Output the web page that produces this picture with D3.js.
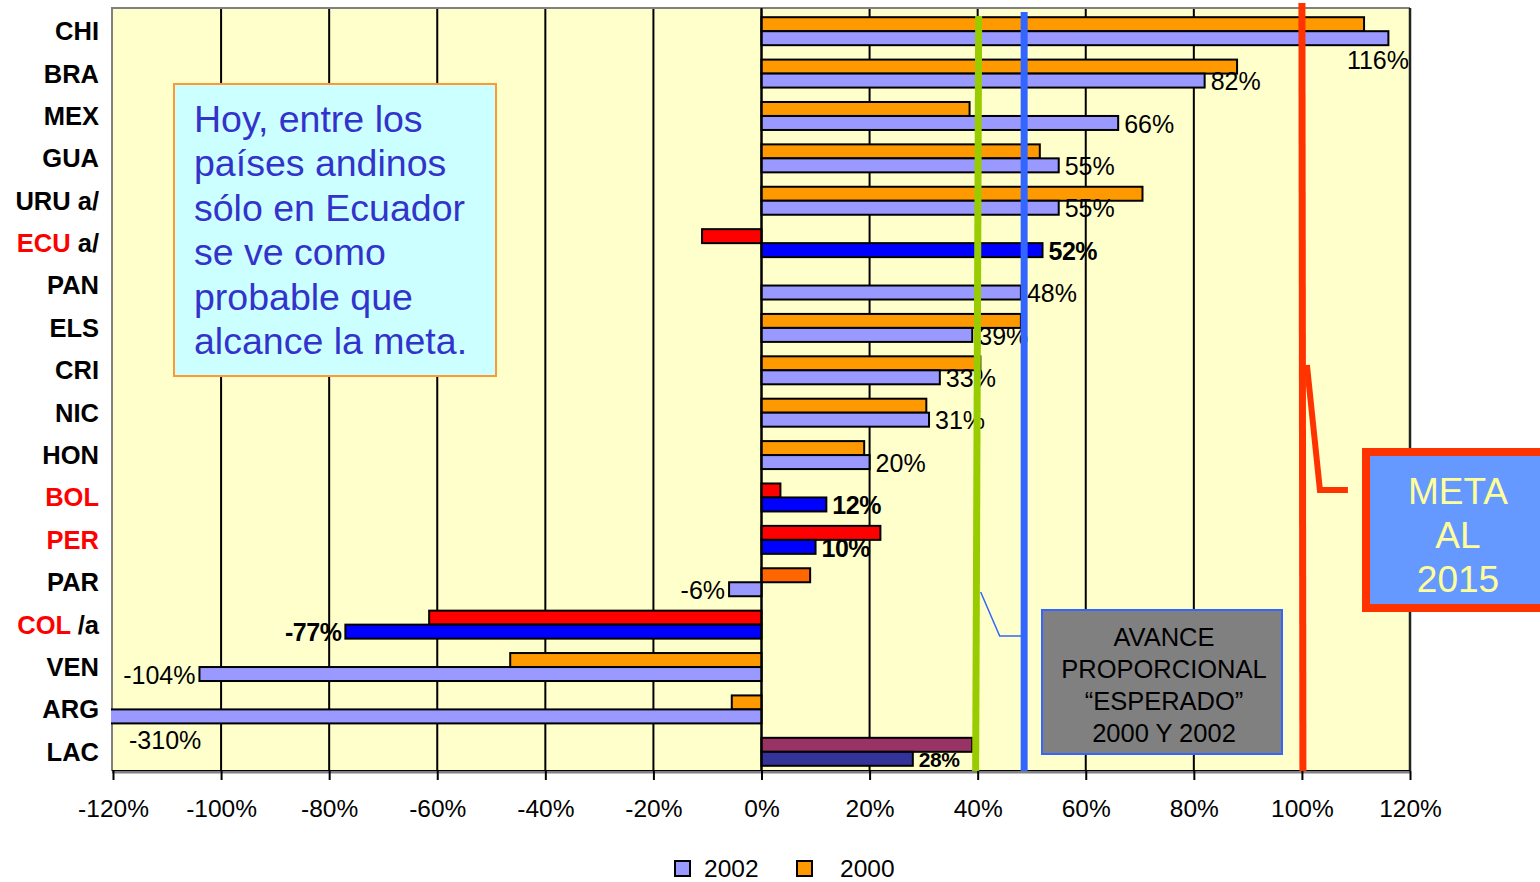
<!DOCTYPE html>
<html><head><meta charset="utf-8">
<script src="https://cdn.jsdelivr.net/npm/d3@7"></script>
<style>body{margin:0;background:#fff;} svg{display:block;font-family:"Liberation Sans",Arial,sans-serif;}</style>
</head><body>
<svg id="c" width="1540" height="882"></svg>
<script>
const categories = ["CHI","BRA","MEX","GUA","URU a/","ECU a/","PAN","ELS","CRI","NIC","HON","BOL","PER","PAR","COL /a","VEN","ARG","LAC"];
const labelRed = ["ECU","BOL","PER","COL"];
const values2000 = [111.5, 88, 38.5, 51.5, 70.5, -11, null, 48, 40.5, 30.5, 19, 3.5, 22, 9, -61.5, -46.5, -5.5, 39];
const values2002 = [116, 82, 66, 55, 55, 52, 48, 39, 33, 31, 20, 12, 10, -6, -77, -104, -310, 28];
const highlighted = ["ECU a/","BOL","PER","COL /a"];
const xTicks = [-120,-100,-80,-60,-40,-20,0,20,40,60,80,100,120];
const expectedLines = [40, 48.6];
const metaValue = 100;
const series = ["2002","2000"];
const textBoxLines = ["Hoy, entre los","países andinos","sólo en Ecuador","se ve como","probable que","alcance la meta."];
const avanceLines = ["AVANCE","PROPORCIONAL","\u201CESPERADO\u201D","2000 Y 2002"];
const metaLines = ["META","AL","2015"];

const svg = d3.select("#c");
const L = 112, R = 1410, T = 8, B = 771;
const x = d3.scaleLinear().domain([-120,120]).range([L+1,R]);
const y = d3.scaleBand().domain(categories).range([T+2, B+2]).paddingInner(0.34).paddingOuter(0.17);
const sub = d3.scaleBand().domain(["2000","2002"]).range([0, y.bandwidth()]);

// background
svg.append("rect").attr("x",L).attr("y",T).attr("width",R-L).attr("height",B-T).attr("fill","#FFFFCC");
// gridlines
svg.append("g").selectAll("line").data(xTicks.filter(d=>d>-120 && d<120)).join("line")
  .attr("x1",d=>x(d)).attr("x2",d=>x(d)).attr("y1",T).attr("y2",B)
  .attr("stroke","#000").attr("stroke-width",2);
// border
svg.append("path").attr("d",`M${L},${B}V${T}H${R}`).attr("fill","none").attr("stroke","#808080").attr("stroke-width",2);
svg.append("line").attr("x1",R).attr("x2",R).attr("y1",T).attr("y2",B).attr("stroke","#222").attr("stroke-width",2.5);

svg.append("clipPath").attr("id","pc").append("rect").attr("x",L-1).attr("y",0).attr("width",R-L+2).attr("height",882);

function col2000(c){ if(c==="PAR") return "#FF6600"; if(c==="LAC") return "#993366"; return highlighted.includes(c)?"#FF0000":"#FF9900"; }
function col2002(c){ if(c==="LAC") return "#333399"; return highlighted.includes(c)?"#0000FF":"#9999FF"; }

const bars = svg.append("g").attr("clip-path","url(#pc)");
bars.selectAll("rect.b00").data(categories.map((c,i)=>({c,v:values2000[i]})).filter(d=>d.v!==null)).join("rect")
  .attr("x",d=>x(Math.min(0,d.v))).attr("width",d=>Math.abs(x(d.v)-x(0)))
  .attr("y",d=>y(d.c)+sub("2000")).attr("height",sub.bandwidth())
  .attr("fill",d=>col2000(d.c)).attr("stroke","#000").attr("stroke-width",2);
bars.selectAll("rect.b02").data(categories.map((c,i)=>({c,v:values2002[i]}))).join("rect")
  .attr("x",d=>x(Math.max(-122,Math.min(0,d.v)))).attr("width",d=>Math.abs(x(Math.max(-122,d.v))-x(0)))
  .attr("y",d=>y(d.c)+sub("2002")).attr("height",sub.bandwidth())
  .attr("fill",d=>col2002(d.c)).attr("stroke","#000").attr("stroke-width",2);

// zero axis line
svg.append("line").attr("x1",x(0)).attr("x2",x(0)).attr("y1",T).attr("y2",B).attr("stroke","#000").attr("stroke-width",2);

// data labels (2002)
const lab = svg.append("g");
categories.forEach((c,i)=>{
  const v = values2002[i];
  const bold = highlighted.includes(c) || c==="LAC";
  let tx, ty = y(c)+sub("2002")+sub.bandwidth()/2 + 1, anchor;
  if (c==="CHI") { tx = R-1; ty = y(c)+sub("2002")+sub.bandwidth()+15; anchor="end"; }
  else if (v < -120) { tx = x(-120)+16; ty = y(c)+sub("2002")+sub.bandwidth()+17; anchor="start"; }
  else if (v >= 0) { tx = x(v)+6; anchor="start"; }
  else { tx = x(v)-4; anchor="end"; }
  lab.append("text").attr("x",tx).attr("y",ty).attr("dy","0.35em").attr("text-anchor",anchor)
    .attr("font-weight",bold?"bold":"normal").attr("font-size",c==="LAC"?21:25)
    .attr("letter-spacing",bold?"-0.5":"0").attr("fill","#000").text(v+"%");
});

// category labels
const cl = svg.append("g").attr("font-size",25.5).attr("font-weight","bold");
categories.forEach(c=>{
  const t = cl.append("text").attr("x",99).attr("y",y(c)+y.bandwidth()/2).attr("dy","0.35em").attr("text-anchor","end");
  const parts = c.split(" ");
  if (labelRed.includes(parts[0])) {
    t.append("tspan").attr("fill","#FF0000").text(parts[0]);
    t.append("tspan").attr("fill","#000").text(" "+parts.slice(1).join(" "));
  } else t.attr("fill","#000").text(c);
});

// x axis
svg.append("line").attr("x1",L).attr("x2",R).attr("y1",B+1).attr("y2",B+1).attr("stroke","#808080").attr("stroke-width",3);
svg.append("line").attr("x1",L).attr("x2",R).attr("y1",B-0.5).attr("y2",B-0.5).attr("stroke","#000").attr("stroke-width",1);
const ax = svg.append("g").attr("transform",`translate(0,${B})`).call(d3.axisBottom(x).tickValues(xTicks).tickFormat(d=>d+"%").tickSize(9).tickPadding(20));
ax.select(".domain").remove();
ax.selectAll(".tick line").attr("stroke","#000").attr("stroke-width",2);
ax.selectAll(".tick text").attr("font-size",24.5).attr("fill","#000").attr("font-family","'Liberation Sans',Arial,sans-serif");

// expected progress lines
svg.append("line").attr("x1",x(expectedLines[0])+1).attr("x2",x(expectedLines[0])-2).attr("y1",16).attr("y2",B).attr("stroke","#99CC00").attr("stroke-width",7);
svg.append("line").attr("x1",x(expectedLines[1])).attr("x2",x(expectedLines[1])).attr("y1",12).attr("y2",B).attr("stroke","#3366FF").attr("stroke-width",7);
// meta line
svg.append("line").attr("x1",x(metaValue)).attr("x2",x(metaValue)+1).attr("y1",3).attr("y2",B).attr("stroke","#FF3300").attr("stroke-width",7);
svg.append("polyline").attr("points",`${x(metaValue)+5},365 ${x(metaValue)+18},490 ${x(metaValue)+46},490`).attr("fill","none").attr("stroke","#FF3300").attr("stroke-width",6);

// avance callout
svg.append("polyline").attr("points",`${x(expectedLines[0])+3},592 ${x(expectedLines[0])+22},636 ${x(expectedLines[1])},636`).attr("fill","none").attr("stroke","#3366FF").attr("stroke-width",1.5);
svg.append("rect").attr("x",1042).attr("y",610).attr("width",240).attr("height",144).attr("fill","#808080").attr("stroke","#3366FF").attr("stroke-width",2);
avanceLines.forEach((t,i)=>svg.append("text").attr("x",1164).attr("y",646+i*32).attr("text-anchor","middle").attr("font-size",25.5).attr("fill","#000").text(t));

// meta box
svg.append("rect").attr("x",1366).attr("y",452).attr("width",200).attr("height",156).attr("fill","#6699FF").attr("stroke","#FF3300").attr("stroke-width",8);
metaLines.forEach((t,i)=>svg.append("text").attr("x",1458).attr("y",504+i*44).attr("text-anchor","middle").attr("font-size",37).attr("fill","#FFFF99").text(t));

// text box
svg.append("rect").attr("x",174).attr("y",84).attr("width",322).attr("height",292).attr("fill","#CCFFFF").attr("stroke","#FF9933").attr("stroke-width",2);
textBoxLines.forEach((t,i)=>svg.append("text").attr("x",194).attr("y",132+i*44.4).attr("font-size",37.5).attr("fill","#3333CC").text(t));

// legend
const lg = svg.append("g");
[["2002","#9999FF",675,704],["2000","#FF9900",797,840]].forEach(([s,c,sx,tx])=>{
  lg.append("rect").attr("x",sx).attr("y",861).attr("width",15).attr("height",15).attr("fill",c).attr("stroke","#000").attr("stroke-width",2);
  lg.append("text").attr("x",tx).attr("y",877).attr("font-size",24.5).attr("fill","#000").text(s);
});
</script>
</body></html>
